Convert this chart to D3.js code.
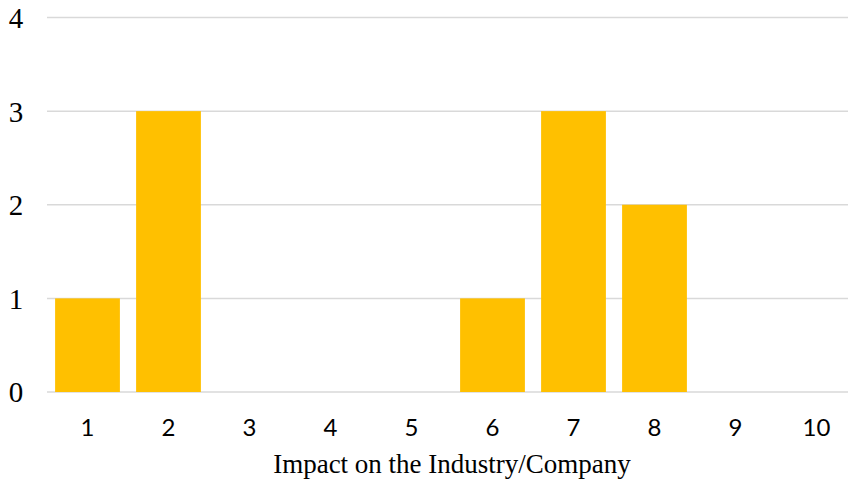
<!DOCTYPE html>
<html>
<head>
<meta charset="utf-8">
<script src="https://cdn.jsdelivr.net/npm/d3@7"></script>
<style>
  html, body { margin: 0; padding: 0; background: #fff; }
  svg { display: block; }
</style>
</head>
<body>
<svg id="chart" width="848" height="486"></svg>
<script>
// Number of responses per impact rating
const categories = ["1", "2", "3", "4", "5", "6", "7", "8", "9", "10"];
const counts = [1, 3, 0, 0, 0, 1, 3, 2, 0, 0];
const yTicks = [0, 1, 2, 3, 4];
const xTitle = "Impact on the Industry/Company";

const svg = d3.select("#chart");

const x = d3.scaleBand()
  .domain(categories)
  .range([47, 857])
  .paddingInner(0.2)
  .paddingOuter(0.1);

const y = d3.scaleLinear()
  .domain([0, 4])
  .range([392, 17.5]);

// horizontal gridlines
svg.append("g")
  .selectAll("line")
  .data(yTicks)
  .join("line")
  .attr("x1", 47)
  .attr("x2", 857)
  .attr("y1", d => y(d))
  .attr("y2", d => y(d))
  .attr("stroke", "#d9d9d9")
  .attr("stroke-width", 1.5);

// bars
svg.append("g")
  .selectAll("rect")
  .data(categories.map((c, i) => ({ c, v: counts[i] })))
  .join("rect")
  .attr("x", d => x(d.c))
  .attr("width", x.bandwidth())
  .attr("y", d => y(d.v))
  .attr("height", d => y(0) - y(d.v))
  .attr("fill", "#FFC000");

// y axis labels
const yAxis = svg.append("g")
  .attr("transform", "translate(16,0)")
  .call(d3.axisLeft(y).tickValues(yTicks).tickSize(0).tickPadding(0).tickFormat(d3.format("d")));
yAxis.select(".domain").remove();
yAxis.selectAll("text")
  .attr("text-anchor", "middle")
  .attr("font-family", "'Liberation Serif', 'Times New Roman', serif")
  .attr("font-size", 29)
  .attr("fill", "#000")
  .attr("dy", "0.34em");

// x axis labels
const xAxis = svg.append("g")
  .attr("transform", "translate(0,392)")
  .call(d3.axisBottom(x).tickSize(0).tickPadding(27));
xAxis.select(".domain").remove();
xAxis.selectAll("text")
  .attr("font-family", "Lato, 'Open Sans', sans-serif")
  .attr("font-size", 24)
  .attr("fill", "#000");

// axis title
svg.append("text")
  .attr("x", 452)
  .attr("y", 473)
  .attr("text-anchor", "middle")
  .attr("font-family", "'Liberation Serif', 'Times New Roman', serif")
  .attr("font-size", 27)
  .attr("fill", "#000")
  .text(xTitle);
</script>
</body>
</html>
